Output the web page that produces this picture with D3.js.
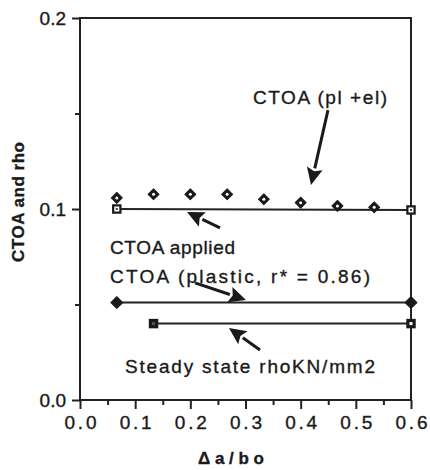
<!DOCTYPE html>
<html>
<head>
<meta charset="utf-8">
<script src="https://cdn.jsdelivr.net/npm/d3@7"></script>
<style>
	body { margin: 0; background: #fff; }
	svg { display: block; }
	svg text { font-family: "Liberation Sans", Arial, Helvetica, sans-serif; stroke: #1a1a1a; stroke-width: 0.35px; }
</style>
</head>
<body>
<svg id="chart" width="430" height="470"></svg>
<script>
	// CTOA (pl +el) points
	var ctoaX = [0.0667, 0.1333, 0.2, 0.2667, 0.3333, 0.4, 0.4667, 0.5333],
		ctoaY = [0.1058, 0.1077, 0.1077, 0.1077, 0.1051, 0.1033, 0.1016, 0.1009];

	// CTOA applied
	var appliedX = [0.0667, 0.6],
		appliedY = [0.1, 0.0995];

	// CTOA (plastic, r* = 0.86)
	var plasticX = [0.0667, 0.6],
		plasticY = [0.051, 0.051];

	// Steady state rho
	var rhoX = [0.1333, 0.6],
		rhoY = [0.04, 0.04];

	var xTicks = [0, 0.1, 0.2, 0.3, 0.4, 0.5, 0.6],
		xMinor = [0.05, 0.15, 0.25, 0.35, 0.45, 0.55],
		yTicks = [0, 0.1, 0.2],
		yMinor = [0.05, 0.15];

	var svg = d3.select('#chart'),
		x = d3.scaleLinear().domain([0, 0.6]).range([80, 411]),
		y = d3.scaleLinear().domain([0, 0.2]).range([400, 18]);

	var zip = function (xs, ys) {
		return xs.map(function (d, i) { return [d, ys[i]]; });
	};

	// frame
	svg.append('rect')
		.attr('x', x(0)).attr('y', y(0.2))
		.attr('width', x(0.6) - x(0)).attr('height', y(0) - y(0.2))
		.attr('fill', 'none').attr('stroke', '#222').attr('stroke-width', 2);

	// axes
	var xAxis = svg.append('g')
		.attr('transform', 'translate(0,' + y(0) + ')')
		.call(d3.axisBottom(x).tickValues(xTicks).tickSize(9).tickFormat(d3.format('.1f')));
	svg.append('g')
		.attr('transform', 'translate(0,' + y(0) + ')')
		.call(d3.axisBottom(x).tickValues(xMinor).tickSize(5).tickFormat(''));
	var yAxis = svg.append('g')
		.attr('transform', 'translate(' + x(0) + ',0)')
		.call(d3.axisLeft(y).tickValues(yTicks).tickSize(8).tickFormat(d3.format('.1f')));
	svg.append('g')
		.attr('transform', 'translate(' + x(0) + ',0)')
		.call(d3.axisLeft(y).tickValues(yMinor).tickSize(5).tickFormat(''));

	svg.selectAll('.domain').remove();
	svg.selectAll('.tick line').attr('stroke', '#222').attr('stroke-width', 2);

	xAxis.selectAll('text')
		.attr('font-size', 19).attr('fill', '#1a1a1a').attr('y', 16)
		.attr('textLength', 32).attr('lengthAdjust', 'spacing');
	yAxis.selectAll('text')
		.attr('font-size', 19).attr('fill', '#1a1a1a').attr('x', -14);

	// axis titles
	svg.append('text')
		.attr('transform', 'translate(24,202) rotate(-90)')
		.attr('text-anchor', 'middle')
		.attr('font-size', 17).attr('font-weight', 'bold').attr('fill', '#1a1a1a')
		.attr('textLength', 120).attr('lengthAdjust', 'spacing')
		.text('CTOA  and  rho');
	svg.append('text')
		.attr('x', 231).attr('y', 464)
		.attr('text-anchor', 'middle')
		.attr('font-size', 17).attr('font-weight', 'bold').attr('fill', '#1a1a1a')
		.attr('textLength', 66).attr('lengthAdjust', 'spacing')
		.text('\u0394a/bo');

	// lines
	var line = d3.line()
		.x(function (d) { return x(d[0]); })
		.y(function (d) { return y(d[1]); });

	[zip(appliedX, appliedY), zip(plasticX, plasticY), zip(rhoX, rhoY)].forEach(function (pts) {
		svg.append('path')
			.attr('d', line(pts))
			.attr('fill', 'none').attr('stroke', '#222').attr('stroke-width', 2);
	});

	// markers
	var diamond = d3.symbol().type(d3.symbolSquare).size(60),
		square = d3.symbol().type(d3.symbolSquare).size(90);

	var place = function (d) { return 'translate(' + x(d[0]) + ',' + y(d[1]) + ')'; };

	var ctoaPts = svg.append('g').selectAll('g')
		.data(zip(ctoaX, ctoaY)).enter()
		.append('g')
			.attr('transform', place);
	ctoaPts.append('path').attr('d', diamond).attr('transform', 'rotate(45)')
		.attr('fill', '#1a1a1a').attr('stroke', '#1a1a1a').attr('stroke-width', 1).attr('stroke-linejoin', 'round');
	ctoaPts.append('circle').attr('r', 1.5).attr('fill', '#fff');

	var appliedPts = svg.append('g').selectAll('g')
		.data(zip(appliedX, appliedY)).enter()
		.append('g')
			.attr('transform', place);
	appliedPts.append('path').attr('d', square).attr('fill', '#1a1a1a');
	appliedPts.append('rect').attr('x', -2.5).attr('y', -2.5).attr('width', 5).attr('height', 5).attr('fill', '#fff');
	appliedPts.append('rect').attr('x', -1).attr('y', -1).attr('width', 2).attr('height', 2).attr('fill', '#444');

	svg.append('g').selectAll('path')
		.data(zip(plasticX, plasticY)).enter()
		.append('path')
			.attr('d', d3.symbol().type(d3.symbolSquare).size(70))
			.attr('transform', function (d) { return place(d) + ' rotate(45)'; })
			.attr('fill', '#1a1a1a').attr('stroke', '#1a1a1a').attr('stroke-linejoin', 'round');

	var rhoPts = svg.append('g').selectAll('g')
		.data(zip(rhoX, rhoY)).enter()
		.append('g')
			.attr('transform', place);
	rhoPts.append('path').attr('d', square).attr('fill', '#1a1a1a');
	rhoPts.append('rect').attr('x', -1.5).attr('y', -1.5).attr('width', 3).attr('height', 3)
		.attr('fill', function (d, i) { return i === 0 ? '#555' : '#fff'; });

	// annotations: [tailX, tailY, tipX, tipY] in data units
	var arrows = [
		[0.4495, 0.1518, 0.4187, 0.1126],
		[0.2538, 0.0901, 0.1940, 0.0984],
		[0.2085, 0.0613, 0.3009, 0.0524],
		[0.3263, 0.0262, 0.2700, 0.0377]
	];

	arrows.forEach(function (a) {
		var x1 = x(a[0]), y1 = y(a[1]), x2 = x(a[2]), y2 = y(a[3]),
			ang = Math.atan2(y2 - y1, x2 - x1),
			len = 17, half = 8,
			bx = x2 - len * Math.cos(ang), by = y2 - len * Math.sin(ang),
			px = -Math.sin(ang) * half, py = Math.cos(ang) * half;

		svg.append('line')
			.attr('x1', x1).attr('y1', y1).attr('x2', bx).attr('y2', by)
			.attr('stroke', '#1a1a1a').attr('stroke-width', 3);
		svg.append('path')
			.attr('d', 'M' + x2 + ',' + y2 + 'L' + (bx + px) + ',' + (by + py) +
				'L' + (bx + 3 * Math.cos(ang)) + ',' + (by + 3 * Math.sin(ang)) +
				'L' + (bx - px) + ',' + (by - py) + 'Z')
			.attr('fill', '#1a1a1a');
	});

	var labels = [
		{ text: 'CTOA (pl +el)', x: 253, y: 104, w: 134 },
		{ text: 'CTOA applied', x: 110, y: 254, w: 125 },
		{ text: 'CTOA  (plastic,  r*  =  0.86)', x: 110, y: 283, w: 260 },
		{ text: 'Steady state rhoKN/mm2', x: 125, y: 373, w: 250 }
	];

	svg.append('g').selectAll('text')
		.data(labels).enter()
		.append('text')
			.attr('x', function (d) { return d.x; })
			.attr('y', function (d) { return d.y; })
			.attr('font-size', 19).attr('fill', '#1a1a1a')
			.attr('textLength', function (d) { return d.w; })
			.attr('lengthAdjust', 'spacing')
			.text(function (d) { return d.text; });
</script>
</body>
</html>
